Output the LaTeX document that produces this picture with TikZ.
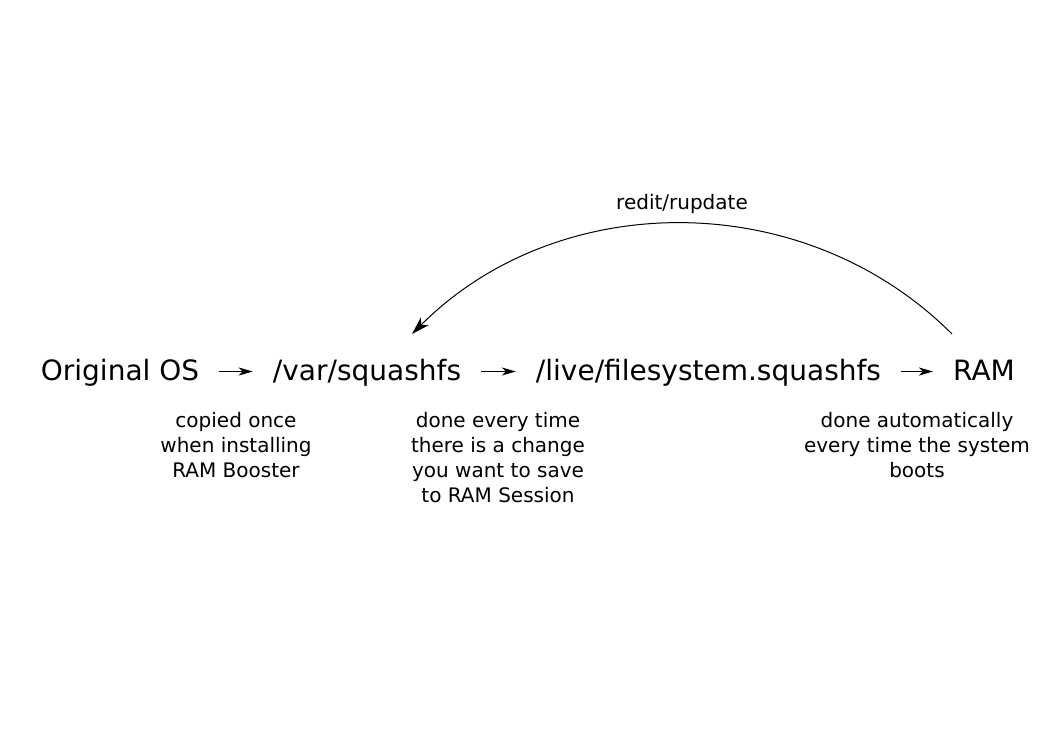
\documentclass[tikz,border=0pt]{standalone}
\usepackage{fontspec}
\setmainfont{DejaVu Sans}
\usetikzlibrary{arrows.meta}
\begin{document}
\begin{tikzpicture}[x=1pt,y=-1pt,
  mainlbl/.style={font=\fontsize{28}{34}\selectfont, inner xsep=20pt, inner ysep=0pt,
    text height=21pt, text depth=4pt, anchor=base},
  note/.style={font=\fontsize{20}{25}\selectfont, align=center, inner sep=0pt, anchor=north},
  flow/.style={line width=1.2pt, -{Stealth[length=14pt,width=8pt,inset=4pt]}},
  loop/.style={line width=1pt, -{Stealth[length=18pt,width=11pt,inset=5pt]}}
]
\useasboundingbox (0,0) rectangle (1052,744);
\node[mainlbl] (orig) at (120,380) {Original OS};
\node[mainlbl] (var) at (367,380) {/var/squashfs};
\node[mainlbl] (live) at (708.5,380) {/live/filesystem.squashfs};
\node[mainlbl] (ram) at (984,380) {RAM};
\draw[flow] (orig.east) -- (var.west);
\draw[flow] (var.east) -- (live.west);
\draw[flow] (live.east) -- (ram.west);
\node[note] (n1) at (236,412) {copied once\\when installing\\RAM Booster};
\node[note] (n2) at (498,412) {done every time\\there is a change\\you want to save\\to RAM Session};
\node[note] (n3) at (917,412) {done automatically\\every time the system\\boots};
\coordinate (arcS) at (952,334);
\coordinate (arcE) at (412,334);
\draw[loop] (arcS) .. controls (805,187) and (559,187) .. (arcE);
\node[font=\fontsize{20}{24}\selectfont, inner sep=0pt, anchor=base] (lbl) at (682,209) {redit/rupdate};
\end{tikzpicture}
\end{document}
